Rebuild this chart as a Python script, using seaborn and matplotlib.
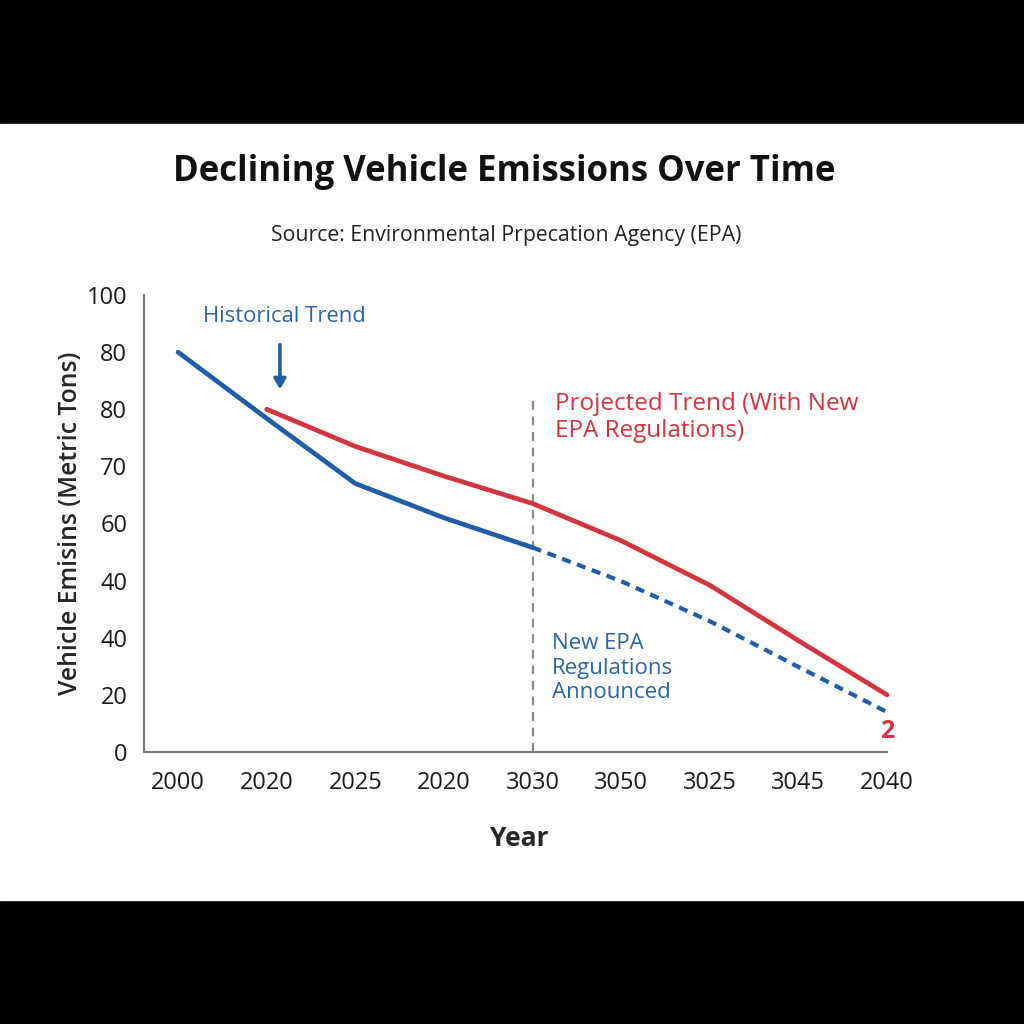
import matplotlib
matplotlib.use("Agg")
import matplotlib.pyplot as plt
from matplotlib.patches import Rectangle
from matplotlib.ticker import FixedLocator
import seaborn as sns
import pandas as pd

# data (y in tick-step units, one step per labelled gridline)
year_labels = ["2000", "2020", "2025", "2020", "3030", "3050", "3025", "3045", "2040"]
value_labels = ["0", "20", "40", "40", "60", "70", "80", "80", "100"]

hist_x = [0, 1, 2, 3, 4]
hist_y = [7.0, 5.84, 4.7, 4.1, 3.58]

base_x = [4, 5, 6, 7, 8]
base_y = [3.58, 2.99, 2.29, 1.49, 0.70]

proj_x = [1, 2, 3, 4, 5, 6, 7, 8]
proj_y = [6.0, 5.35, 4.83, 4.35, 3.7, 2.92, 1.95, 1.0]

blue = "#1f5ea6"
red = "#d33440"
txt_blue = "#2a64a6"

sns.set_style("white")
plt.rcParams['font.family'] = ['Open Sans', 'DejaVu Sans']

fig = plt.figure(figsize=(10.24, 10.24), dpi=100, facecolor="black")
fig.patches.append(Rectangle((0, 1 - 900/1024), 1, (900 - 124)/1024,
                             transform=fig.transFigure, color="white", zorder=-5))

ax = fig.add_axes([144/1024, 1 - 752/1024, (887 - 144)/1024, (752 - 295)/1024])
ax.set_zorder(2)
ax.set_facecolor("white")

df_hist = pd.DataFrame({"x": hist_x, "y": hist_y})
df_base = pd.DataFrame({"x": base_x, "y": base_y})
df_proj = pd.DataFrame({"x": proj_x, "y": proj_y})

ax.axvline(4, ymin=0, ymax=6.2/8, color="#8a8a8a", lw=1.6, ls=(0, (4, 3)), zorder=1)
sns.lineplot(data=df_hist, x="x", y="y", ax=ax, color=blue, lw=3.4, zorder=3)
sns.lineplot(data=df_base, x="x", y="y", ax=ax, color=blue, lw=3.0, zorder=3,
             linestyle=(0, (2.2, 1.6)), clip_on=False)
sns.lineplot(data=df_proj, x="x", y="y", ax=ax, color=red, lw=3.4, zorder=4, clip_on=False)

ax.set_xlim(-0.384, 8.0)
ax.set_ylim(0, 8)
ax.set_xticks(range(len(year_labels)))
ax.set_xticklabels(year_labels, fontsize=17)
ax.xaxis.set_minor_locator(FixedLocator([i + 0.5 for i in range(8)]))
ax.set_yticks(range(len(value_labels)))
ax.set_yticklabels(value_labels, fontsize=17)
ax.tick_params(axis="both", which="major", direction="out", length=7, width=1.3,
               color="#777777", labelcolor="#1a1a1a", pad=5)
ax.tick_params(axis="x", which="minor", direction="out", length=5, width=1.2, color="#777777")
ax.tick_params(axis="x", which="major", pad=7)

for s in ["top", "right"]:
    ax.spines[s].set_visible(False)
for s in ["left", "bottom"]:
    ax.spines[s].set_color("#777777")
    ax.spines[s].set_linewidth(1.5)

ax.set_xlabel("Year", fontsize=19, fontweight="bold", labelpad=20)
ax.xaxis.set_label_coords(0.505, -0.16)
ax.set_ylabel("Vehicle Emisins (Metric Tons)", fontsize=17.8, fontweight="semibold", labelpad=3)

# annotations
ax.text(0.28, 7.62, "Historical Trend", color=txt_blue, fontsize=15.8, ha="left", va="center")
ax.annotate("", xy=(1.15, 6.3), xytext=(1.15, 7.18),
            arrowprops=dict(arrowstyle="-|>,head_length=0.6,head_width=0.35",
                            color=blue, lw=2.6))
ax.text(4.25, 5.85, "Projected Trend (With New\nEPA Regulations)", color=red,
        fontsize=17.5, ha="left", va="center", linespacing=1.15)
ax.text(4.22, 1.47, "New EPA\nRegulations\nAnnounced", color=txt_blue,
        fontsize=16, ha="left", va="center", linespacing=1.2)
ax.text(8.0, 0.36, "2", color=red, fontsize=18, fontweight="bold", ha="center", va="center")

fig.text(0.492, 1 - 172/1024, "Declining Vehicle Emissions Over Time", fontsize=25,
         fontweight="bold", ha="center", va="center", color="#111111")
fig.text(0.494, 1 - 236/1024, "Source: Environmental Prpecation Agency (EPA)", fontsize=15.3,
         ha="center", va="center", color="#222222")

fig.savefig("out.png", dpi=100, facecolor=fig.get_facecolor())
